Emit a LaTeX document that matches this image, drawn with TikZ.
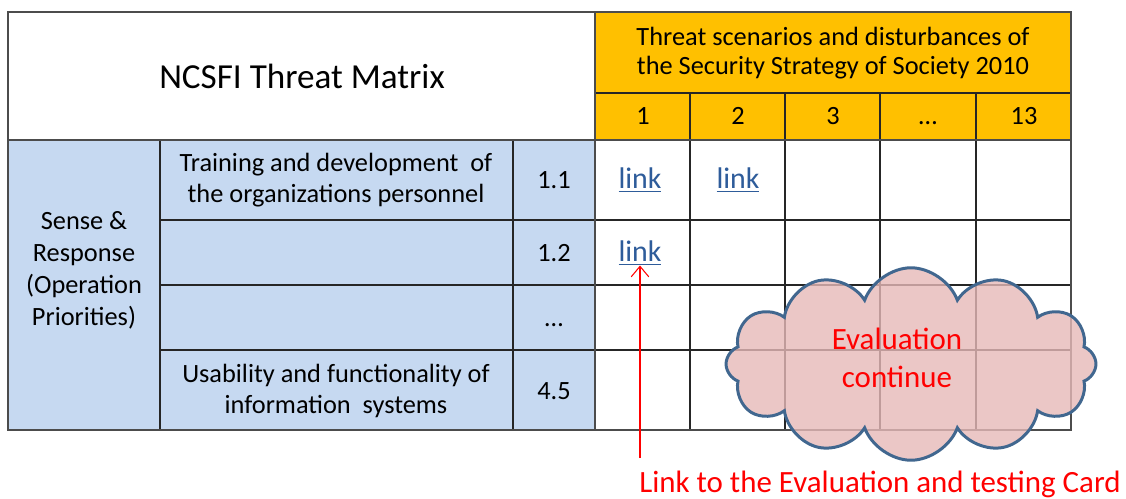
\documentclass[tikz,border=0pt]{standalone}
\usepackage{fontspec}
\setmainfont{Carlito}
\usetikzlibrary{shapes.symbols,arrows.meta}
\definecolor{hdrorange}{HTML}{FFC000}
\definecolor{rowblue}{HTML}{C6D9F1}
\definecolor{cloudpink}{HTML}{E6B9B8}
\definecolor{cloudedge}{HTML}{41678F}
\definecolor{linkblue}{HTML}{2E5C9A}
\tikzset{>={Straight Barb[length=6pt,width=10pt]}}

\begin{document}
\begin{tikzpicture}[x=0.02cm,y=-0.02cm,
        every node/.style={font=\fontsize{15}{17.6}\selectfont,align=center,inner sep=0pt},
        title/.style={font=\fontsize{20}{24}\selectfont},
        linktext/.style={font=\fontsize{17}{20}\selectfont,text=linkblue},
        note/.style={font=\fontsize{17.6}{22}\selectfont,text=red},
        grid line/.style={line width=0.9pt,black!85},
        frame line/.style={line width=1.1pt,black!70}]
  \useasboundingbox (0,0) rectangle (1126,498);
  \fill[white] (8,12) rectangle (595,140);
  \fill[hdrorange] (595,12) rectangle (1071,140);
  \fill[rowblue] (8,140) rectangle (595,430);
  \foreach \y in {220,285,350} \draw[grid line] (160,\y) -- (1071,\y);
  \foreach \x in {690,785,880,976} \draw[grid line] (\x,93) -- (\x,430);
  \foreach \x in {160,513} \draw[grid line] (\x,140) -- (\x,430);
  \draw[grid line] (595,93) -- (1071,93);
  \draw[frame line] (8,12) rectangle (1071,430);
  \draw[frame line] (8,140) -- (1071,140);
  \draw[frame line] (595,12) -- (595,430);

  \node[title] (matrix) at (302,76) {NCSFI Threat Matrix};
  \node[font=\fontsize{15}{16.5}\selectfont] (scenarios) at (833,53)
    {Threat scenarios and disturbances of\\the Security Strategy of Society 2010};
  \node (c1) at (643,116) {1};
  \node (c2) at (738,116) {2};
  \node (c3) at (833,116) {3};
  \node (c4) at (928,116) {\vphantom{1}\dots};
  \node (c13) at (1024,116) {13};

  \node[font=\fontsize{15}{18.2}\selectfont] (sense) at (84,270)
    {Sense \&\\Response\\(Operation\\Priorities)};
  \node (training) at (336,180) {Training and development\ \ of\\the organizations personnel};
  \node (usability) at (336,391) {Usability and functionality of\\information\ \ systems};
  \node (r11) at (554,180) {1.1};
  \node (r12) at (554,253) {1.2};
  \node (rdots) at (554,318) {\vphantom{1}\dots};
  \node (r45) at (554,391) {4.5};

  \node[linktext] (link11) at (640,180) {\underline{link}};
  \node[linktext] (link21) at (738,180) {\underline{link}};
  \node[linktext] (link12) at (640,253) {\underline{link}};

  \node[cloud,cloud puffs=12,cloud puff arc=140,cloud ignores aspect,minimum width=7.4cm,minimum height=3.85cm,
        fill=cloudpink,fill opacity=0.8,draw=cloudedge,line width=1.7pt] (cloud) at (911,364) {};
  \node[note] (evaluation) at (897,358) {Evaluation\\continue};

  \coordinate (arrowfoot) at (640,458);
  \node[note] (cardnote) at (880,484) {Link to the Evaluation and testing Card};
  \draw[->,red,line width=0.6pt] (arrowfoot) -- (link12.south);
\end{tikzpicture}
\end{document}
